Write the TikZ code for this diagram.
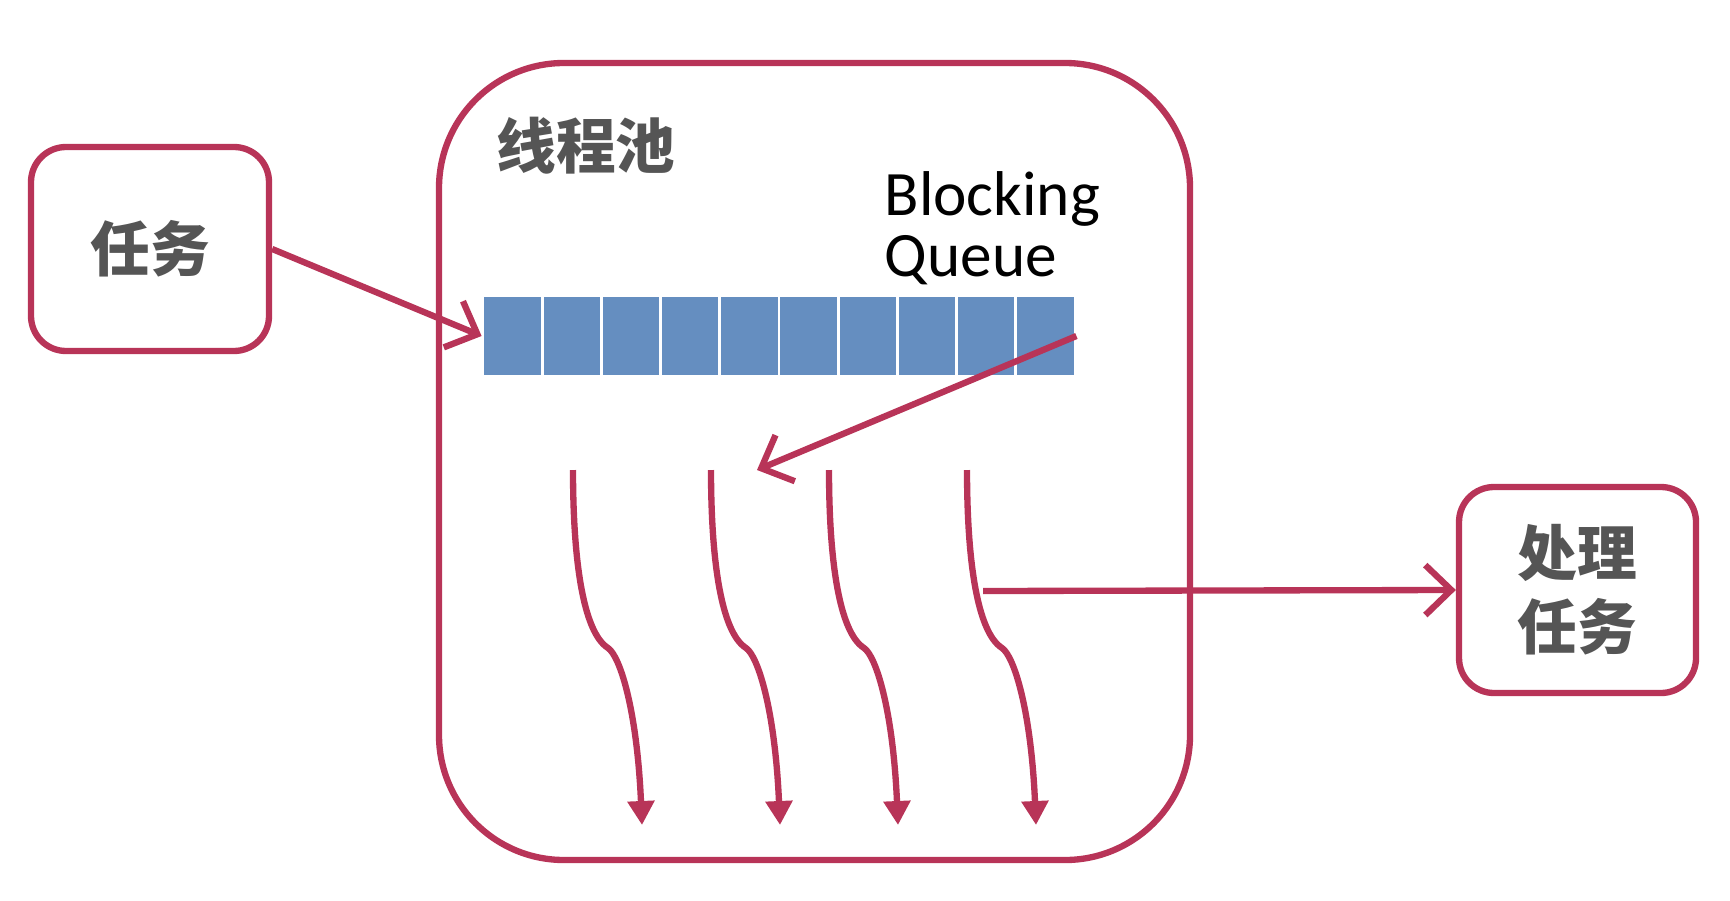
\documentclass[tikz,border=0pt]{standalone}
\usepackage{fontspec}
\setmainfont{Carlito}
\newfontfamily\cjk{Noto Sans CJK SC}
\usetikzlibrary{arrows.meta}
\definecolor{crimson}{RGB}{184,52,88}
\definecolor{cellblue}{RGB}{101,142,192}
\definecolor{textgray}{RGB}{85,85,85}
\tikzset{
  box/.style={draw=crimson, line width=1.8pt, rounded corners=0.35cm, fill=white,
    minimum width=2.38cm, minimum height=2.04cm, align=center, text=textgray,
    font=\cjk\bfseries\fontsize{17}{21}\selectfont},
  cell/.style={fill=cellblue, draw=white, line width=0.8pt, inner sep=0pt,
    minimum width=0.592cm, minimum height=0.8cm},
  flow/.style={crimson, line width=1.8pt, -{Straight Barb[length=2.6mm,width=5mm]}},
  thread/.style={crimson, line width=1.8pt, -{Triangle[length=2.4mm,width=2.6mm]}}
}
\begin{document}
\begin{tikzpicture}
  \useasboundingbox (0,0) rectangle (17.3,9);
  \node[draw=crimson, line width=1.8pt, rounded corners=1.25cm,
    minimum width=7.51cm, minimum height=7.97cm] (pool) at (8.145,4.385) {};
  \node[text=textgray, font=\cjk\bfseries\fontsize{17}{20}\selectfont] (title) at (5.86,7.54) {线程池};
  \node[anchor=base west, align=left, inner sep=0pt,
    font=\fontsize{18}{17.3}\selectfont] (bq) at (8.84,6.24) {Blocking\\Queue};
  \node[box] (task) at (1.50,6.51) {任务};
  \node[box, minimum width=2.37cm, minimum height=2.06cm] (done) at (15.775,3.10) {处理\\任务};
  % queue
  \foreach \i in {1,...,10}
    \node[cell] (q\i) at ({4.83+0.592*(\i-0.5)},5.64) {};
  % threads
  \foreach \x [count=\k] in {5.73,7.11,8.29,9.67} {
    \coordinate (t\k) at (\x,4.30);
    \coordinate (k\k) at (\x+0.35,2.52);
    \coordinate (e\k) at (\x+0.69,0.75);
    \draw[thread] (t\k) .. controls (\x,3.4) and (\x+0.1,2.68) .. (k\k)
      .. controls (\x+0.47,2.44) and (\x+0.64,1.9) .. (e\k);
  }
  \coordinate (pick) at (7.57,4.30);
  \coordinate (out) at (9.83,3.09);
  \draw[flow] (task.east) -- (q1.west);
  \draw[flow] (q10.east) -- (pick);
  \draw[flow] (out) -- (done.west);
\end{tikzpicture}
\end{document}
